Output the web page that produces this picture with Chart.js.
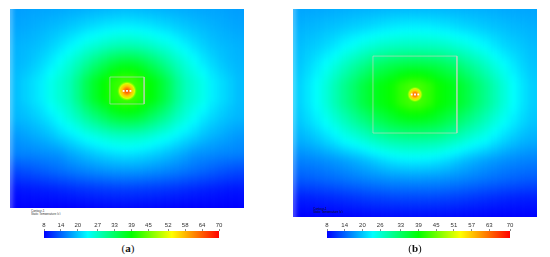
<!DOCTYPE html>
<html>
<head>
<meta charset="utf-8">
<script src="https://cdn.jsdelivr.net/npm/chart.js@4.4.1/dist/chart.umd.min.js"></script>
<style>
  html, body { margin: 0; padding: 0; background: #fff; }
  body { width: 550px; height: 257px; position: relative; overflow: hidden; font-family: "Liberation Sans", Arial, sans-serif; }
  .box { position: absolute; }
  .cap { position: absolute; width: 40px; text-align: center; font-family: "Liberation Serif", "Times New Roman", serif; font-size: 11px; line-height: 11px; color: #111; }
  .tiny { position: absolute; font-size: 6px; line-height: 6px; transform: scale(0.5); transform-origin: 0 0; white-space: nowrap; color: #333; }
</style>
</head>
<body>
<div class="box" style="left:10px;top:9px;width:234px;height:199px"><canvas id="heatA"></canvas></div>
<div class="box" style="left:293px;top:9px;width:244px;height:208px"><canvas id="heatB"></canvas></div>
<div class="box" style="left:34px;top:219px;width:195px;height:20px"><canvas id="barA"></canvas></div>
<div class="box" style="left:317px;top:219px;width:203px;height:20px"><canvas id="barB"></canvas></div>
<div class="tiny" style="left:31px;top:209px">Contour-1<br>Static Temperature (c)</div>
<div class="tiny" style="left:313px;top:207px;color:#111">Contour-1<br>Static Temperature (c)</div>
<div class="cap" style="left:108px;top:243px">(<b>a</b>)</div>
<div class="cap" style="left:395px;top:243px">(<b>b</b>)</div>
<script>
// temperature field, rows top -> bottom, 26 columns left -> right
const tempA = [
  [17.6,17.7,17.9,18.0,18.1,18.2,18.4,18.5,18.7,18.9,19.0,19.2,19.3,19.3,19.2,19.0,18.9,18.7,18.5,18.4,18.2,18.1,18.0,17.9,17.7,17.6],
  [18.1,18.3,18.6,18.9,19.3,19.7,20.2,20.7,21.3,21.7,22.2,22.5,22.7,22.7,22.5,22.2,21.7,21.3,20.7,20.2,19.7,19.3,18.9,18.6,18.3,18.1],
  [18.8,19.1,19.4,19.9,20.7,21.6,22.7,23.8,25.0,25.8,26.8,27.5,27.9,27.9,27.5,26.8,25.8,25.0,23.8,22.7,21.6,20.7,19.9,19.4,19.1,18.8],
  [19.1,19.5,20.2,21.2,22.4,24.0,25.6,27.5,29.6,31.7,33.6,35.4,36.3,36.3,35.4,33.6,31.7,29.6,27.5,25.6,24.0,22.4,21.2,20.2,19.5,19.1],
  [19.5,20.5,21.5,22.6,24.5,26.0,27.6,30.5,34.0,36.8,39.0,41.5,43.0,43.0,41.5,39.0,36.8,34.0,30.5,27.6,26.0,24.5,22.6,21.5,20.5,19.5],
  [19.5,20.5,21.5,22.6,24.5,26.0,27.5,30.4,33.9,36.7,38.9,41.3,42.8,42.8,41.3,38.9,36.7,33.9,30.4,27.5,26.0,24.5,22.6,21.5,20.5,19.5],
  [19.1,19.5,20.2,21.1,22.3,23.8,25.5,27.3,29.5,31.4,33.2,35.0,35.8,35.8,35.0,33.2,31.4,29.5,27.3,25.5,23.8,22.3,21.1,20.2,19.5,19.1],
  [17.3,17.8,18.4,19.0,19.8,21.0,22.0,23.1,24.3,25.1,26.1,26.8,27.1,27.1,26.8,26.1,25.1,24.3,23.1,22.0,21.0,19.8,19.0,18.4,17.8,17.3],
  [15.9,16.1,16.2,16.5,16.8,17.1,18.1,18.9,19.7,20.4,21.0,21.5,21.8,21.8,21.5,21.0,20.4,19.7,18.9,18.1,17.1,16.8,16.5,16.2,16.1,15.9],
  [12.3,12.6,13.0,13.5,14.0,14.5,15.0,15.5,15.9,16.3,16.6,16.9,17.0,17.0,16.9,16.6,16.3,15.9,15.5,15.0,14.5,14.0,13.5,13.0,12.6,12.3],
  [9.2,9.3,9.5,9.7,9.9,10.2,10.5,10.8,11.0,11.2,11.4,11.5,11.6,11.6,11.5,11.4,11.2,11.0,10.8,10.5,10.2,9.9,9.7,9.5,9.3,9.2],
  [8.0,8.0,8.0,8.0,8.0,8.0,8.0,8.1,8.2,8.3,8.4,8.4,8.5,8.5,8.4,8.4,8.3,8.2,8.1,8.0,8.0,8.0,8.0,8.0,8.0,8.0]
];
const tempB = [
  [18.0,18.1,18.2,18.3,18.5,18.6,18.7,18.8,18.9,19.0,19.1,19.2,19.2,19.2,19.2,19.1,19.0,18.9,18.8,18.7,18.6,18.5,18.3,18.2,18.1,18.0],
  [18.8,19.1,19.3,19.7,20.0,20.4,20.8,21.2,21.6,22.1,22.4,22.7,22.8,22.8,22.7,22.4,22.1,21.6,21.2,20.8,20.4,20.0,19.7,19.3,19.1,18.8],
  [19.5,20.1,20.6,21.3,22.2,23.4,24.3,25.4,26.2,26.9,27.3,27.5,27.6,27.6,27.5,27.3,26.9,26.2,25.4,24.3,23.4,22.2,21.3,20.6,20.1,19.5],
  [20.0,21.0,22.3,23.8,25.4,27.2,29.0,30.6,32.4,33.5,34.4,34.9,35.2,35.2,34.9,34.4,33.5,32.4,30.6,29.0,27.2,25.4,23.8,22.3,21.0,20.0],
  [20.6,22.0,23.6,25.6,28.0,30.4,32.6,35.0,36.8,38.2,39.5,41.6,43.0,43.0,41.6,39.5,38.2,36.8,35.0,32.6,30.4,28.0,25.6,23.6,22.0,20.6],
  [20.6,22.0,23.6,25.6,28.0,30.3,32.5,34.9,36.7,38.1,39.4,41.4,42.8,42.8,41.4,39.4,38.1,36.7,34.9,32.5,30.3,28.0,25.6,23.6,22.0,20.6],
  [20.0,21.0,22.3,23.8,25.4,27.2,29.0,30.6,32.4,33.8,35.1,35.9,36.3,36.3,35.9,35.1,33.8,32.4,30.6,29.0,27.2,25.4,23.8,22.3,21.0,20.0],
  [18.5,19.0,19.8,20.8,22.0,23.4,24.3,25.4,26.6,27.5,28.3,28.6,28.8,28.8,28.6,28.3,27.5,26.6,25.4,24.3,23.4,22.0,20.8,19.8,19.0,18.5],
  [15.9,16.1,16.4,16.8,17.3,17.9,18.6,19.4,20.3,21.2,21.9,22.4,22.6,22.6,22.4,21.9,21.2,20.3,19.4,18.6,17.9,17.3,16.8,16.4,16.1,15.9],
  [13.5,13.7,14.0,14.3,14.7,15.1,15.5,15.9,16.3,16.6,16.9,17.0,17.1,17.1,17.0,16.9,16.6,16.3,15.9,15.5,15.1,14.7,14.3,14.0,13.7,13.5],
  [9.8,9.9,10.1,10.3,10.6,10.9,11.2,11.5,11.8,12.0,12.2,12.3,12.3,12.3,12.3,12.2,12.0,11.8,11.5,11.2,10.9,10.6,10.3,10.1,9.9,9.8],
  [8.0,8.0,8.0,8.0,8.0,8.1,8.2,8.3,8.4,8.5,8.6,8.6,8.7,8.7,8.6,8.6,8.5,8.4,8.3,8.2,8.1,8.0,8.0,8.0,8.0,8.0]
];

// hot spot: centre (grid units) and temperatures from core outwards
const hotCenterA = { x: 13.0, y: 4.53 };
const hotCenterB = { x: 13.0, y: 4.52 };
const hotA = [66, 62, 57, 51, 45];
const hotB = [65, 61, 56, 50, 44];

// heat sources (the three white squares)
const sourcesA = [{ x: 12.62, y: 4.53 }, { x: 13.0, y: 4.53 }, { x: 13.38, y: 4.53 }];
const sourcesB = [{ x: 12.65, y: 4.52 }, { x: 13.0, y: 4.52 }, { x: 13.35, y: 4.52 }];

// outline of the inner region
const boxA = [{ x: 11.1, y: 3.76 }, { x: 14.9, y: 3.76 }, { x: 14.9, y: 5.25 }, { x: 11.1, y: 5.25 }, { x: 11.1, y: 3.76 }];
const boxB = [{ x: 8.52, y: 2.49 }, { x: 17.47, y: 2.49 }, { x: 17.47, y: 6.56 }, { x: 8.52, y: 6.56 }, { x: 8.52, y: 2.49 }];

// colour bar ticks
const ticksA = [8, 14, 20, 27, 33, 39, 45, 52, 58, 64, 70];
const ticksB = [8, 14, 20, 26, 33, 39, 45, 51, 57, 63, 70];

const VMIN = 8, VMAX = 70;
const cmap = [[0, [0, 0, 255]], [0.25, [0, 255, 255]], [0.5, [0, 255, 0]], [0.73, [255, 255, 0]], [1, [255, 0, 0]]];

function colorOf(v, a = 1) {
  const t = Math.min(1, Math.max(0, (v - VMIN) / (VMAX - VMIN)));
  for (let k = 1; k < cmap.length; k++) {
    if (t <= cmap[k][0]) {
      const [t0, c0] = cmap[k - 1];
      const [t1, c1] = cmap[k];
      const f = (t - t0) / (t1 - t0);
      const c = c0.map((x, n) => Math.round(x + (c1[n] - x) * f));
      return `rgba(${c[0]},${c[1]},${c[2]},${a})`;
    }
  }
  return 'red';
}

// vertical gradient through one column of the grid
function columnFill(grid, cols) {
  return (ctx) => {
    const chart = ctx.chart;
    if (!chart.chartArea || ctx.dataIndex === undefined) return 'transparent';
    const i = cols[ctx.dataIndex];
    const y = chart.scales.y;
    const n = grid.length - 1;
    const g = chart.ctx.createLinearGradient(0, y.getPixelForValue(0), 0, y.getPixelForValue(n));
    for (let j = 0; j < n; j++) {
      for (let s = 0; s < 6; s++) {
        const f = s / 6;
        g.addColorStop((j + f) / n, colorOf(grid[j][i] + (grid[j + 1][i] - grid[j][i]) * f));
      }
    }
    g.addColorStop(1, colorOf(grid[n][i]));
    return g;
  };
}

function hotFill(values, radius) {
  return (ctx) => {
    const chart = ctx.chart;
    if (!chart.chartArea || !ctx.raw) return 'transparent';
    const px = chart.scales.x.getPixelForValue(ctx.raw.x);
    const py = chart.scales.y.getPixelForValue(ctx.raw.y);
    const g = chart.ctx.createRadialGradient(px, py, 0, px, py, radius);
    values.forEach((v, k) => {
      g.addColorStop(k / (values.length - 1), colorOf(v, k === values.length - 1 ? 0 : 1));
    });
    return g;
  };
}

// soften the seams between neighbouring columns
const smoothCells = {
  id: 'smoothCells',
  beforeDatasetDraw(chart, args) {
    if (args.meta.type === 'bar') { chart.ctx.save(); chart.ctx.filter = 'blur(3px)'; }
  },
  afterDatasetDraw(chart, args) {
    if (args.meta.type === 'bar') chart.ctx.restore();
  }
};

function heatmap(id, grid, hotCenter, hot, hotRadius, sources, box) {
  const nc = grid[0].length, nr = grid.length;
  // each column is a bar two cells wide, drawn left to right so the next one
  // covers the right half; the first entry pads the left edge
  const cols = [0, ...grid[0].map((_, i) => i)];
  new Chart(document.getElementById(id), {
    type: 'bar',
    data: {
      datasets: [
        { type: 'scatter', data: sources, pointStyle: 'rect', pointRadius: 1.3, backgroundColor: '#fff', borderWidth: 0, order: 1 },
        { type: 'scatter', data: box, showLine: true, borderColor: 'rgba(200,210,195,0.65)', borderWidth: 1, pointRadius: 0, order: 2 },
        { type: 'bubble', data: [hotCenter], radius: hotRadius, backgroundColor: hotFill(hot, hotRadius), borderWidth: 0, order: 3 },
        {
          type: 'bar',
          data: cols.map((c, k) => ({ x: k === 0 ? -1 : c + 1, y: [-1, nr] })),
          backgroundColor: columnFill(grid, cols),
          borderWidth: 0,
          barPercentage: 2,
          categoryPercentage: 1,
          order: 4
        }
      ]
    },
    options: {
      responsive: true,
      maintainAspectRatio: false,
      animation: false,
      events: [],
      layout: { padding: 0, autoPadding: false },
      plugins: { legend: { display: false }, tooltip: { enabled: false } },
      scales: {
        x: { type: 'linear', min: 0, max: nc, offset: false, display: false, ticks: { stepSize: 13 } },
        y: { type: 'linear', min: 0, max: nr - 1, reverse: true, display: false }
      }
    },
    plugins: [smoothCells]
  });
}

function colorbar(id, ticks) {
  new Chart(document.getElementById(id), {
    type: 'bar',
    data: {
      labels: [''],
      datasets: [{
        data: [[VMIN, VMAX]],
        backgroundColor: (ctx) => {
          const chart = ctx.chart;
          if (!chart.chartArea) return 'transparent';
          const x = chart.scales.x;
          const g = chart.ctx.createLinearGradient(x.getPixelForValue(VMIN), 0, x.getPixelForValue(VMAX), 0);
          cmap.forEach(([t]) => g.addColorStop(t, colorOf(VMIN + t * (VMAX - VMIN))));
          return g;
        },
        borderWidth: 0,
        barPercentage: 1,
        categoryPercentage: 1
      }]
    },
    options: {
      indexAxis: 'y',
      responsive: true,
      maintainAspectRatio: false,
      animation: false,
      events: [],
      layout: { padding: { left: 10, right: 10, top: 0, bottom: 1 } },
      plugins: { legend: { display: false }, tooltip: { enabled: false } },
      scales: {
        x: {
          type: 'linear',
          position: 'top',
          min: VMIN,
          max: VMAX,
          afterBuildTicks: (s) => { s.ticks = ticks.map(v => ({ value: v })); },
          afterFit: (s) => { s.height = 12; },
          ticks: { font: { size: 6, family: 'Liberation Sans' }, color: '#333', padding: 0, autoSkip: false, maxRotation: 0, callback: (v) => String(v) },
          grid: { drawOnChartArea: false, tickLength: 2, color: '#888' },
          border: { display: false }
        },
        y: { display: false }
      }
    }
  });
}

heatmap('heatA', tempA, hotCenterA, hotA, 10, sourcesA, boxA);
heatmap('heatB', tempB, hotCenterB, hotB, 8, sourcesB, boxB);
colorbar('barA', ticksA);
colorbar('barB', ticksB);
</script>
</body>
</html>
